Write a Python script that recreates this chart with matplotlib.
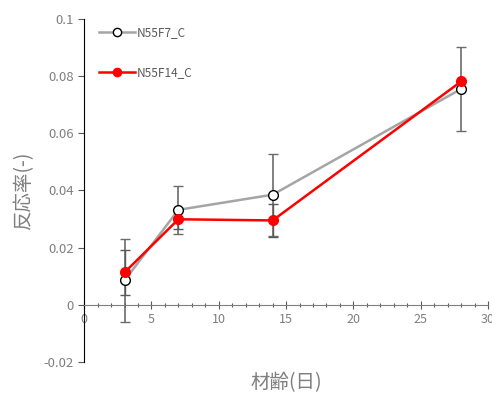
import matplotlib.pyplot as plt
from matplotlib.ticker import FuncFormatter, MultipleLocator

plt.rcParams['font.family'] = ['Noto Sans CJK JP', 'DejaVu Sans']

# data
days = [3, 7, 14, 28]
f7_vals = [0.0085, 0.0332, 0.0385, 0.0755]
f7_err = [0.0145, 0.0085, 0.0143, 0.0147]
f14_vals = [0.0113, 0.0299, 0.0295, 0.0781]
f14_err = [0.0080, 0.0035, 0.0057, 0.0]
labels = ["N55F7_C", "N55F14_C"]

fig = plt.figure(figsize=(4.92, 3.93), dpi=100)
ax = fig.add_axes([0.171, 0.079, 0.821, 0.873])

ax.errorbar(days, f7_vals, yerr=f7_err, fmt='none', ecolor='#6b6b6b',
            elinewidth=1.2, capsize=3.5, capthick=1.0, zorder=1)
ax.errorbar(days, f14_vals, yerr=f14_err, fmt='none', ecolor='#595959',
            elinewidth=1.0, capsize=3.5, capthick=1.0, zorder=1)
ax.plot(days, f7_vals, color='#a5a5a5', lw=1.8, marker='o', ms=7,
        mfc='white', mec='black', mew=1.0, label=labels[0], zorder=3)
ax.plot(days, f14_vals, color='#ff0000', lw=1.8, marker='o', ms=7,
        mfc='#ff0000', mec='#ff0000', label=labels[1], zorder=4)

ax.set_xlim(0, 30)
ax.set_ylim(-0.02, 0.1)

ax.spines['top'].set_visible(False)
ax.spines['right'].set_visible(False)
ax.spines['bottom'].set_position(('data', 0))
ax.spines['bottom'].set_color('#7f7f7f')
ax.spines['left'].set_color('black')

ax.xaxis.set_major_locator(MultipleLocator(5))
ax.xaxis.set_minor_locator(MultipleLocator(1))
ax.yaxis.set_major_locator(MultipleLocator(0.02))
ax.yaxis.set_major_formatter(FuncFormatter(lambda v, p: '0' if abs(v) < 1e-9 else ('%g' % round(v, 4))))

ax.tick_params(axis='x', which='major', direction='inout', length=6, width=0.8,
               colors='#595959', labelsize=9, pad=3, labelcolor='#7f7f7f')
ax.tick_params(axis='x', which='minor', direction='inout', length=3.5, width=0.8,
               colors='#595959')
ax.tick_params(axis='y', direction='out', length=4, width=0.8, colors='#595959',
               labelsize=9.5, labelcolor='#7f7f7f')

ax.set_xlabel('材齢(日)', fontsize=14, color='#7f7f7f')
ax.xaxis.set_label_coords(0.5, -0.03)
ax.set_ylabel('反応率(-)', fontsize=14, color='#7f7f7f', labelpad=7)

leg = ax.legend(loc='upper left', bbox_to_anchor=(0.02, 1.0), frameon=False,
                fontsize=8.5, labelspacing=2.3, handlelength=3.0,
                handletextpad=0.2, borderaxespad=0.2, markerscale=0.85)
for t in leg.get_texts():
    t.set_color('#595959')

fig.savefig('out.png', dpi=100)
